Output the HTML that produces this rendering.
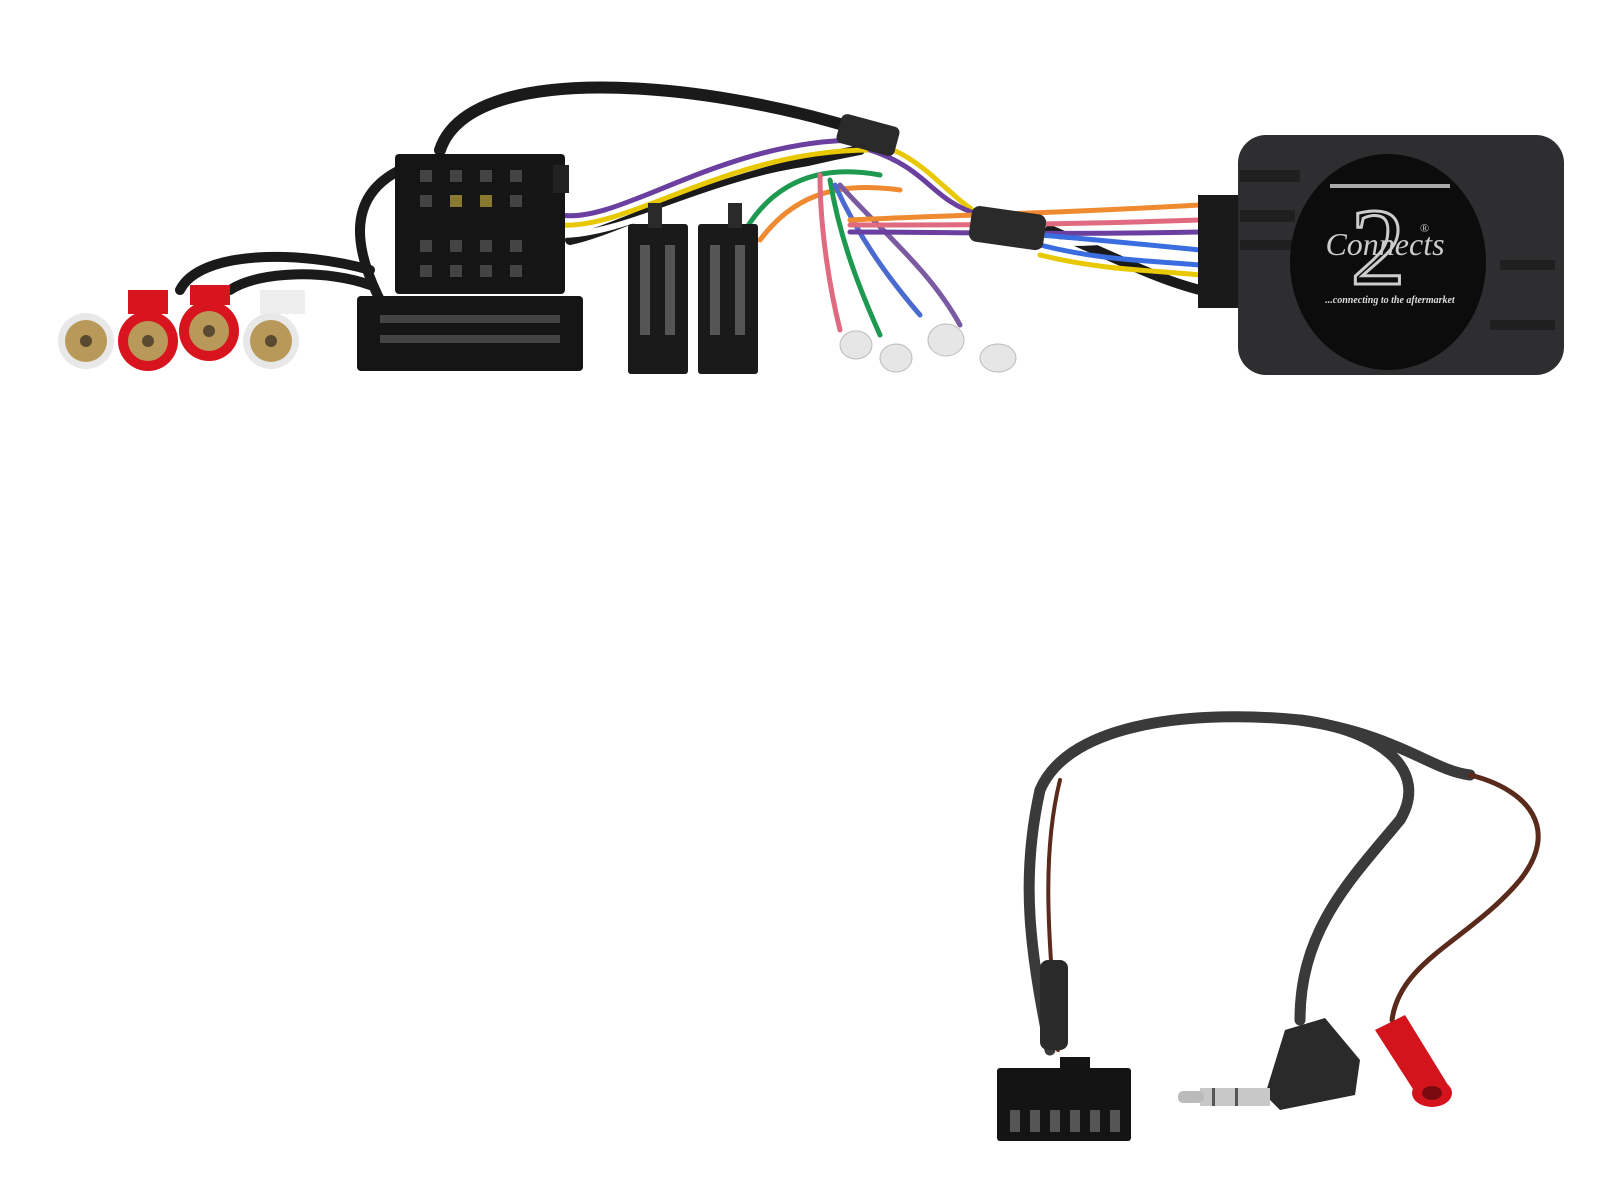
<!DOCTYPE html>
<html><head><meta charset="utf-8"><style>
html,body{margin:0;padding:0;background:#fff;width:1600px;height:1200px;overflow:hidden}
svg{display:block}
</style></head><body>
<svg width="1600" height="1200" viewBox="0 0 1600 1200" xmlns="http://www.w3.org/2000/svg" font-family="Liberation Serif, serif">
<g fill="none" stroke="#1a1a1a" stroke-linecap="round">
<path d="M440 150 C470 60 700 80 860 130" stroke-width="12"/>
<path d="M400 170 C340 200 360 260 380 300" stroke-width="10"/>
<path d="M180 290 C200 250 300 250 370 270" stroke-width="10"/>
<path d="M230 290 C260 270 330 270 370 285" stroke-width="10"/>
<path d="M570 240 C620 230 700 180 860 150" stroke-width="10"/>
<path d="M1050 230 C1120 260 1160 280 1200 290" stroke-width="10"/>
</g>
<g fill="none" stroke-width="5" stroke-linecap="round">
<path d="M560 215 C620 225 720 140 860 140" stroke="#6b3fa0"/>
<path d="M560 225 C630 230 730 150 870 150" stroke="#e8c800"/>
<path d="M560 235 C640 235 740 160 880 165" stroke="#ffffff" stroke-width="6"/>
<path d="M740 240 C760 200 800 160 880 175" stroke="#1e9a50"/>
<path d="M760 240 C790 200 830 180 900 190" stroke="#f08a30"/>
<path d="M860 140 C920 150 940 190 980 215" stroke="#e8c800"/>
<path d="M870 150 C930 170 930 200 980 215" stroke="#6b3fa0"/>
<path d="M820 175 C820 230 830 290 840 330" stroke="#e06a80"/>
<path d="M830 180 C840 240 860 290 880 335" stroke="#1e9a50"/>
<path d="M835 185 C860 240 890 280 920 315" stroke="#4a6ad0"/>
<path d="M840 185 C880 230 930 270 960 325" stroke="#7a5aa0"/>
<path d="M850 220 C950 215 1020 215 1200 205" stroke="#f08a30"/>
<path d="M850 225 C950 225 1050 225 1200 220" stroke="#e06a80"/>
<path d="M850 232 C950 232 1050 235 1200 232" stroke="#6b3fa0"/>
<path d="M1040 240 C1100 250 1130 230 1200 245" stroke="#ffffff" stroke-width="6"/>
<path d="M1040 245 C1100 260 1140 260 1200 265" stroke="#3a6ee0"/>
<path d="M1040 255 C1100 270 1150 270 1200 275" stroke="#e8c800"/>
<path d="M1040 235 C1100 240 1150 245 1200 250" stroke="#3a6ee0"/>
</g>
<rect x="970" y="210" width="75" height="36" rx="8" fill="#2a2a2a" transform="rotate(8 1007 228)"/>
<rect x="838" y="120" width="60" height="30" rx="6" fill="#2a2a2a" transform="rotate(15 868 135)"/>
<g>
<circle cx="86" cy="341" r="28" fill="#e8e8e8"/><circle cx="86" cy="341" r="21" fill="#b9995a"/><circle cx="86" cy="341" r="6" fill="#5a4a30"/>
<rect x="128" y="290" width="40" height="24" fill="#d8141e"/>
<circle cx="148" cy="341" r="30" fill="#d8141e"/><circle cx="148" cy="341" r="20" fill="#b9995a"/><circle cx="148" cy="341" r="6" fill="#5a4a30"/>
<rect x="190" y="285" width="40" height="20" fill="#d8141e"/>
<circle cx="209" cy="331" r="30" fill="#d8141e"/><circle cx="209" cy="331" r="20" fill="#b9995a"/><circle cx="209" cy="331" r="6" fill="#5a4a30"/>
<rect x="260" y="290" width="45" height="24" fill="#eee"/>
<circle cx="271" cy="341" r="28" fill="#e8e8e8"/><circle cx="271" cy="341" r="21" fill="#b9995a"/><circle cx="271" cy="341" r="6" fill="#5a4a30"/>
</g>
<rect x="395" y="154" width="170" height="140" rx="4" fill="#151515"/>
<rect x="357" y="296" width="226" height="75" rx="4" fill="#151515"/>
<rect x="553" y="165" width="16" height="28" fill="#222"/>
<g fill="#444">
<rect x="420" y="170" width="12" height="12"/><rect x="450" y="170" width="12" height="12"/><rect x="480" y="170" width="12" height="12"/><rect x="510" y="170" width="12" height="12"/>
<rect x="420" y="195" width="12" height="12"/><rect x="450" y="195" width="12" height="12" fill="#8a7a30"/><rect x="480" y="195" width="12" height="12" fill="#8a7a30"/><rect x="510" y="195" width="12" height="12"/>
<rect x="420" y="240" width="12" height="12"/><rect x="450" y="240" width="12" height="12"/><rect x="480" y="240" width="12" height="12"/><rect x="510" y="240" width="12" height="12"/>
<rect x="420" y="265" width="12" height="12"/><rect x="450" y="265" width="12" height="12"/><rect x="480" y="265" width="12" height="12"/><rect x="510" y="265" width="12" height="12"/>
<rect x="380" y="315" width="180" height="8"/><rect x="380" y="335" width="180" height="8"/>
</g>
<rect x="628" y="224" width="60" height="150" rx="3" fill="#1a1a1a"/>
<rect x="698" y="224" width="60" height="150" rx="3" fill="#1a1a1a"/>
<rect x="648" y="203" width="14" height="25" fill="#2a2a2a"/><rect x="728" y="203" width="14" height="25" fill="#2a2a2a"/>
<g fill="#555">
<rect x="640" y="245" width="10" height="90"/><rect x="665" y="245" width="10" height="90"/>
<rect x="710" y="245" width="10" height="90"/><rect x="735" y="245" width="10" height="90"/>
</g>
<g fill="#e6e6e6" stroke="#bbb">
<ellipse cx="856" cy="345" rx="16" ry="14"/><ellipse cx="896" cy="358" rx="16" ry="14"/>
<ellipse cx="946" cy="340" rx="18" ry="16"/><ellipse cx="998" cy="358" rx="18" ry="14"/>
</g>
<rect x="1198" y="195" width="45" height="113" fill="#1a1a1a"/>
<rect x="1238" y="135" width="326" height="240" rx="28" fill="#2e2e30"/>
<g fill="#1f1f20"><rect x="1240" y="170" width="60" height="12"/><rect x="1240" y="210" width="55" height="12"/><rect x="1240" y="240" width="55" height="10"/><rect x="1500" y="260" width="55" height="10"/><rect x="1490" y="320" width="65" height="10"/></g>
<ellipse cx="1388" cy="262" rx="98" ry="108" fill="#0c0c0d"/>
<path d="M1330 186 L1450 186" stroke="#aaa" stroke-width="4" fill="none"/>
<text x="1378" y="284" font-size="110" font-family="Liberation Serif, serif" fill="none" stroke="#ccc" stroke-width="3" text-anchor="middle">2</text>
<text x="1385" y="255" font-size="32" font-style="italic" fill="#ccc" text-anchor="middle">Connects</text>
<text x="1420" y="232" font-size="12" fill="#ccc">®</text>
<text x="1390" y="303" font-size="10" font-weight="bold" font-style="italic" fill="#ddd" text-anchor="middle">...connecting to the aftermarket</text>
<g fill="none" stroke-linecap="round">
<path d="M1050 1050 C1030 950 1020 880 1040 790 C1070 720 1200 710 1300 720 C1400 735 1430 770 1470 775" stroke="#3a3a3a" stroke-width="11"/>
<path d="M1300 1020 C1300 930 1350 880 1400 820 C1430 770 1380 730 1300 720" stroke="#3a3a3a" stroke-width="11"/>
<path d="M1470 775 C1530 790 1560 830 1520 880 C1470 940 1400 960 1392 1020" stroke="#5a2a1c" stroke-width="5"/>
<path d="M1058 1050 C1050 950 1040 860 1060 780" stroke="#5a2a1c" stroke-width="4"/>
</g>
<rect x="1040" y="960" width="28" height="90" rx="8" fill="#2a2a2a"/>
<rect x="997" y="1068" width="134" height="73" rx="3" fill="#141414"/>
<rect x="1060" y="1057" width="30" height="14" fill="#141414"/>
<g fill="#555"><rect x="1010" y="1110" width="10" height="22"/><rect x="1030" y="1110" width="10" height="22"/><rect x="1050" y="1110" width="10" height="22"/><rect x="1070" y="1110" width="10" height="22"/><rect x="1090" y="1110" width="10" height="22"/><rect x="1110" y="1110" width="10" height="22"/></g>
<path d="M1285 1030 L1325 1018 L1360 1060 L1355 1095 L1280 1110 L1265 1095 Z" fill="#2a2a2a"/>
<rect x="1200" y="1088" width="70" height="18" fill="#c8c8c8"/>
<rect x="1178" y="1091" width="26" height="12" rx="5" fill="#bbb"/>
<rect x="1212" y="1088" width="3" height="18" fill="#555"/><rect x="1235" y="1088" width="3" height="18" fill="#555"/>
<path d="M1375 1030 L1405 1015 L1448 1085 L1420 1100 Z" fill="#d4141c"/>
<ellipse cx="1432" cy="1093" rx="20" ry="14" fill="#d4141c"/>
<ellipse cx="1432" cy="1093" rx="10" ry="7" fill="#7a0a0e"/>
</svg>
</body></html>
